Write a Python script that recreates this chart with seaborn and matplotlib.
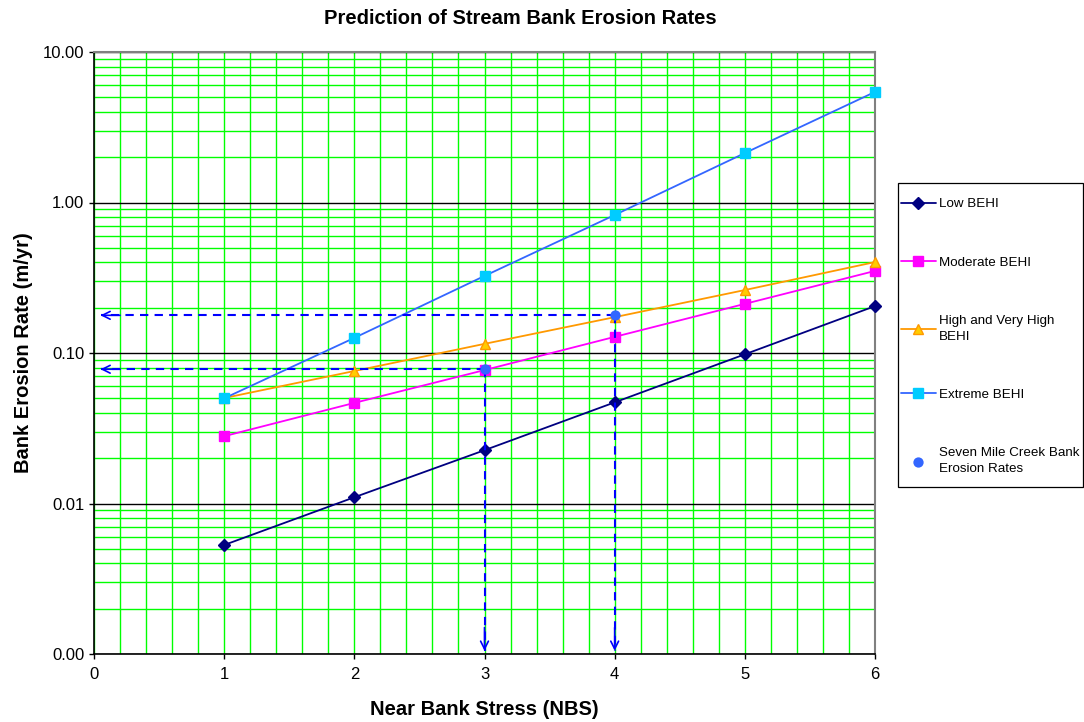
import numpy as np
import pandas as pd
import matplotlib
matplotlib.use("Agg")
import matplotlib.pyplot as plt
from matplotlib.patches import Rectangle
from matplotlib.ticker import LogLocator, FixedLocator, NullFormatter, MultipleLocator
import seaborn as sns

# Near bank stress classes
nbs = [1, 2, 3, 4, 5, 6]

# Erosion rates (m/yr) by bank erosion hazard index
low_behi = [0.0053, 0.011, 0.0226, 0.047, 0.098, 0.205]
moderate_behi = [0.028, 0.0466, 0.077, 0.128, 0.212, 0.351]
high_behi = [0.0502, 0.0759, 0.115, 0.173, 0.262, 0.402]
extreme_behi = [0.050, 0.126, 0.325, 0.826, 2.13, 5.43]

# Measured creek points
creek_nbs = [3, 4]
creek_rate = [0.078, 0.178]

y_ticks = [0.001, 0.01, 0.1, 1, 10]
y_tick_labels = ["0.00", "0.01", "0.10", "1.00", "10.00"]
x_ticks = [0, 1, 2, 3, 4, 5, 6]

sns.set_style("white")
plt.rcParams["font.family"] = ["Liberation Sans", "DejaVu Sans"]
for key in ["text.color", "axes.labelcolor", "xtick.color", "ytick.color"]:
    plt.rcParams[key] = "black"

W, H = 1084, 722
fig = plt.figure(figsize=(W / 100, H / 100), dpi=100)
ax = fig.add_axes([94 / W, 1 - 654 / H, (875 - 94) / W, (654 - 52) / H])
ax.set_facecolor("white")

ax.set_yscale("log")
ax.set_xlim(0, 6)
ax.set_ylim(0.001, 10)

# grid: green minors, black decade lines
ax.xaxis.set_major_locator(FixedLocator(x_ticks))
ax.xaxis.set_minor_locator(MultipleLocator(0.2))
ax.yaxis.set_major_locator(FixedLocator(y_ticks))
ax.yaxis.set_minor_locator(LogLocator(base=10, subs=np.arange(2, 10)))
ax.yaxis.set_minor_formatter(NullFormatter())
ax.set_yticklabels(y_tick_labels)
ax.set_axisbelow(True)
ax.grid(which="minor", axis="both", color="#00FF00", lw=1.0)
ax.grid(which="major", axis="x", color="#00FF00", lw=1.0)
ax.grid(which="major", axis="y", color="black", lw=1.0)

ax.tick_params(which="major", direction="out", length=3.6, width=1, color="black",
               labelsize=12, bottom=True, left=True, pad=3.5)
ax.tick_params(axis="x", pad=6)
ax.tick_params(which="minor", length=0)
for side in ["left", "bottom"]:
    ax.spines[side].set_color("black")
    ax.spines[side].set_linewidth(1.2)
for side in ["top", "right"]:
    ax.spines[side].set_color("#808080")
    ax.spines[side].set_linewidth(1.5)

series = [
    ("Low BEHI", low_behi, "#000080", "D", "#000080", "#000080", 6),
    ("Moderate BEHI", moderate_behi, "#FF00FF", "s", "#FF00FF", "#FF00FF", 7),
    ("High and Very High\nBEHI", high_behi, "#FF9900", "^", "#FFCC00", "#FF9900", 7),
    ("Extreme BEHI", extreme_behi, "#3366FF", "s", "#00CCFF", "#00CCFF", 7),
]
for label, vals, lc, mk, mfc, mec, ms in series:
    df = pd.DataFrame({"NBS": nbs, "rate": vals})
    sns.lineplot(data=df, x="NBS", y="rate", ax=ax, color=lc, lw=1.3, marker=mk,
                 markerfacecolor=mfc, markeredgecolor=mec, markersize=ms,
                 markeredgewidth=1, label=label, zorder=3, clip_on=False)

# dashed read-off lines from the creek points to both axes
arrow_blue = "#0000FF"
for cx, cy in zip(creek_nbs, creek_rate):
    ax.plot([cx, 0.05], [cy, cy], color=arrow_blue, lw=1.5, ls=(0, (4, 3)), zorder=4)
    ax.plot([cx, cx], [cy, 0.00105], color=arrow_blue, lw=1.5, ls=(0, (4, 3)), zorder=4)
    ax.annotate("", xy=(0.05, cy), xytext=(0.2, cy),
                arrowprops=dict(arrowstyle="->", color=arrow_blue, lw=1.2,
                                mutation_scale=14, shrinkA=0, shrinkB=0), zorder=5)
    ax.annotate("", xy=(cx, 0.00105), xytext=(cx, 0.0015),
                arrowprops=dict(arrowstyle="->", color=arrow_blue, lw=1.2,
                                mutation_scale=14, shrinkA=0, shrinkB=0), zorder=5)

creek_df = pd.DataFrame({"NBS": creek_nbs, "rate": creek_rate})
sns.scatterplot(data=creek_df, x="NBS", y="rate", ax=ax, color="#3366FF", marker="o",
                s=55, edgecolor="#3366FF", linewidth=0, zorder=6,
                label="Seven Mile Creek Bank\nErosion Rates")

fig.text(520 / W, 1 - 19 / H, "Prediction of Stream Bank Erosion Rates",
         fontsize=14.5, fontweight="bold", ha="center", va="center")
ax.set_xlabel("Near Bank Stress (NBS)", fontsize=14.5, fontweight="bold")
ax.set_ylabel("Bank Erosion Rate (m/yr)", fontsize=14.5, fontweight="bold")
ax.xaxis.set_label_coords(0.5, (654 - 700) / 602)
ax.yaxis.set_label_coords((33 - 94) / 781, 0.5)

# legend box outside the plot on the right
fig.patches.append(Rectangle((898 / W, 1 - 487 / H), (1083 - 898) / W, (487 - 183) / H,
                             transform=fig.transFigure, facecolor="white",
                             edgecolor="black", lw=0.9, zorder=-1))
leg = ax.legend(loc="upper left", bbox_to_anchor=(901 / W, 1 - 198 / H),
                bbox_transform=fig.transFigure, fontsize=9.6, frameon=False,
                labelspacing=3.45, handlelength=2.6, handletextpad=0.25,
                borderpad=0, borderaxespad=0)
for t in leg.get_texts():
    t.set_linespacing(1.45)

fig.savefig("out.png", dpi=100, facecolor="white")
